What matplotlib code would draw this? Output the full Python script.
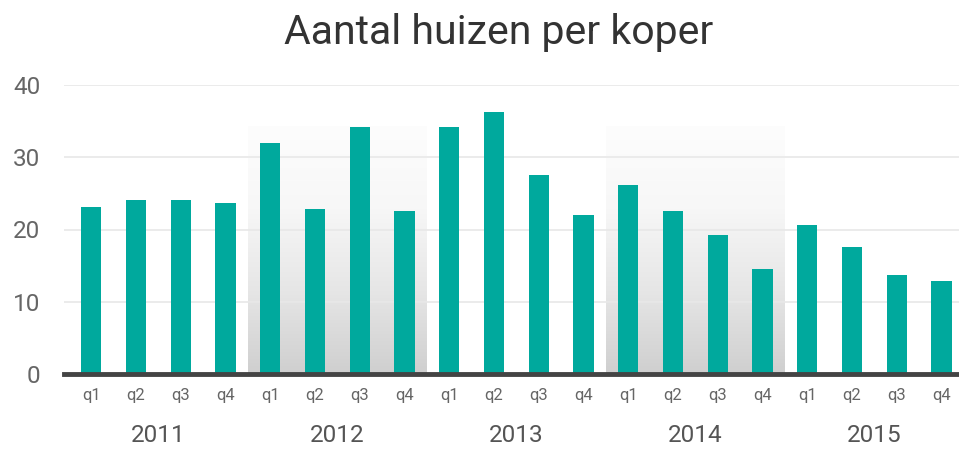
import matplotlib

matplotlib.use('Agg')
import matplotlib.pyplot as plt
import numpy as np
from matplotlib.colors import LinearSegmentedColormap

years = ['2011', '2012', '2013', '2014', '2015']
quarters = ['q1', 'q2', 'q3', 'q4']
values = [
    23.1, 24.1, 24.1, 23.7,
    32.0, 22.9, 34.2, 22.6,
    34.2, 36.3, 27.6, 22.0,
    26.2, 22.6, 19.3, 14.6,
    20.6, 17.6, 13.7, 12.9,
]
shaded_years = ['2012', '2014']

plt.rcParams['font.family'] = ['Roboto', 'DejaVu Sans']

fig = plt.figure(figsize=(9.59, 4.5), dpi=100)
ax = fig.add_axes([64 / 959, 76 / 450, 1 - 64 / 959, 289 / 450])

x = np.arange(len(values))
ax.set_xlim(-0.61, 19.39)
ax.set_ylim(0, 40)

# shaded year bands with vertical gradient
band_cmap = LinearSegmentedColormap.from_list('band', ['#cfcfcf', '#e6e6e6', '#f7f7f7', '#fdfdfd'])
grad = np.linspace(0, 1, 256).reshape(-1, 1)
for yr in shaded_years:
    i = years.index(yr)
    ax.imshow(grad, cmap=band_cmap, origin='lower', aspect='auto',
              extent=(4 * i - 0.5, 4 * i + 3.5, 0, 34.3), zorder=0)

ax.bar(x, values, width=0.45, color='#00a99d', zorder=3)

ax.set_yticks([0, 10, 20, 30, 40])
ax.grid(axis='y', color='#e8e8e8', linewidth=1.2, zorder=1)
ax.axhline(0, color='#444444', linewidth=3.5, zorder=4, clip_on=False)
for s in ax.spines.values():
    s.set_visible(False)

ax.set_xticks(x)
ax.set_xticklabels(quarters * len(years))
ax.tick_params(axis='x', length=0, pad=10, labelsize=12, labelcolor='#666666')
ax.tick_params(axis='y', length=0, pad=17, labelsize=17.5, labelcolor='#666666')

for i, yr in enumerate(years):
    ax.annotate(yr, xy=(4 * i + 1.5, 0), xycoords=('data', 'axes fraction'),
                xytext=(0, -61), textcoords='offset pixels', ha='center', va='center',
                fontsize=17.5, color='#555555')

fig.text(0.52, 1 - 33 / 450, 'Aantal huizen per koper', ha='center', va='center',
         fontsize=29.5, color='#333333')

fig.savefig('out.png', dpi=100)
